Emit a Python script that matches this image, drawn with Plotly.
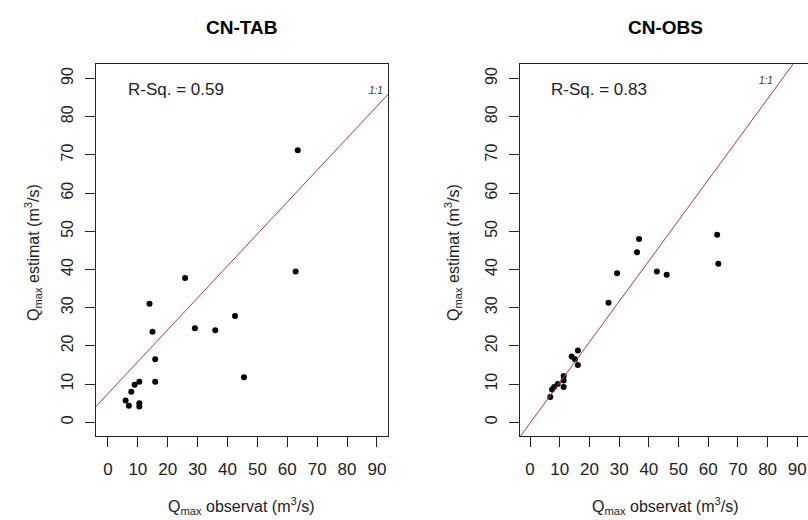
import plotly.graph_objects as go

# ---- data ----
tab_obs = [63.5, 62.8, 25.8, 13.9, 14.9, 29.1, 35.9, 42.5, 15.8, 15.8, 45.5, 10.5, 8.9, 7.8, 5.9, 7.0, 10.5, 10.5]
tab_est = [71.2, 39.5, 37.8, 31.0, 23.7, 24.6, 24.1, 27.8, 16.5, 10.6, 11.8, 10.6, 9.8, 8.0, 5.7, 4.3, 5.0, 4.1]

obs_obs = [63.0, 63.4, 36.7, 36.0, 29.3, 42.7, 46.0, 26.4, 16.1, 14.0, 15.1, 16.1, 11.3, 11.3, 11.3, 9.3, 8.1, 7.4, 6.8]
obs_est = [49.1, 41.5, 48.0, 44.5, 39.0, 39.5, 38.6, 31.3, 18.8, 17.2, 16.5, 15.0, 12.1, 10.9, 9.2, 10.0, 9.2, 8.6, 6.6]

line_intercepts = [7.5, -0.2]
line_slopes = [0.836, 1.061]
panel_titles = ["CN-TAB", "CN-OBS"]
rsq_labels = ["R-Sq. = 0.59", "R-Sq. = 0.83"]
tick_vals = [0, 10, 20, 30, 40, 50, 60, 70, 80, 90]

W, H = 808, 520
FONT = "Liberation Sans, Arial, sans-serif"

fig = go.Figure()

panels = [(tab_obs, tab_est, "x", "y"), (obs_obs, obs_est, "x2", "y2")]
for i, (xo, ye, xa, ya) in enumerate(panels):
    fig.add_trace(go.Scatter(x=xo, y=ye, mode="markers", xaxis=xa, yaxis=ya,
                             marker=dict(color="black", size=6), showlegend=False))
    lx = [-10, 110]
    ly = [line_intercepts[i] + line_slopes[i] * v for v in lx]
    fig.add_trace(go.Scatter(x=lx, y=ly, mode="lines", xaxis=xa, yaxis=ya,
                             line=dict(color="#b03a3a", width=1), showlegend=False))

ydom = [84 / H, 456 / H]
common_x = dict(tickvals=tick_vals, ticks="outside", ticklen=10, tickcolor="#222",
                showline=True, mirror=True, linecolor="#222", linewidth=1,
                showgrid=False, zeroline=False, automargin=False,
                ticklabeloverflow="allow",
                tickfont=dict(family=FONT, size=17, color="#222"), ticklabelstandoff=8)
common_y = dict(tickvals=tick_vals, ticks="outside", ticklen=10, tickcolor="#222",
                showline=True, linecolor="#222", linewidth=1,
                showgrid=False, zeroline=False, automargin=False, tickangle=-90,
                ticklabeloverflow="allow",
                tickfont=dict(family=FONT, size=16, color="#222"), ticklabelstandoff=6,
                range=[-3.6, 93.8], domain=ydom)

fig.update_layout(
    width=W, height=H, margin=dict(l=0, r=0, t=0, b=0),
    paper_bgcolor="white", plot_bgcolor="white",
    xaxis=dict(common_x, domain=[96 / W, 388 / W], range=[-4.0, 93.7], anchor="y"),
    yaxis=dict(common_y, mirror=True, anchor="x"),
    xaxis2=dict(common_x, domain=[520 / W, 1.0], range=[-3.4, 93.6], anchor="y2"),
    yaxis2=dict(common_y, mirror=False, anchor="x2"),
)

ann = []
centers = [241 / W, 665 / W]
ytitle_x = [33 / W, 453 / W]
for i in range(2):
    ann.append(dict(text="<b>" + panel_titles[i] + "</b>", x=centers[i], y=(H - 27) / H,
                    xref="paper", yref="paper", showarrow=False, xanchor="center", yanchor="middle",
                    font=dict(family=FONT, size=19, color="black")))
    ann.append(dict(text="Q<sub>max</sub> observat (m<sup>3</sup>/s)", x=centers[i],
                    y=(H - 506) / H, xref="paper", yref="paper", showarrow=False,
                    xanchor="center", yanchor="middle",
                    font=dict(family=FONT, size=16, color="#222")))
    ann.append(dict(text="Q<sub>max</sub> estimat (m<sup>3</sup>/s)", x=ytitle_x[i], y=(H - 253) / H,
                    xref="paper", yref="paper", showarrow=False, textangle=-90,
                    xanchor="center", yanchor="middle",
                    font=dict(family=FONT, size=16, color="#222")))
xr = ["x", "x2"]
yr = ["y", "y2"]
rsq_x = [6.0, 6.4]
one_pos = [(89.7, 86.9), (79.6, 89.5)]
for i in range(2):
    ann.append(dict(text=rsq_labels[i], x=rsq_x[i], y=87.1, xref=xr[i], yref=yr[i],
                    xanchor="left", yanchor="middle", showarrow=False,
                    font=dict(family=FONT, size=17, color="#222")))
    ann.append(dict(text="<i>1:1</i>", x=one_pos[i][0], y=one_pos[i][1], xref=xr[i], yref=yr[i],
                    xanchor="center", yanchor="middle",
                    showarrow=False, font=dict(family=FONT, size=10, color="#333")))
fig.update_layout(annotations=ann)

fig.write_html("out.html")
